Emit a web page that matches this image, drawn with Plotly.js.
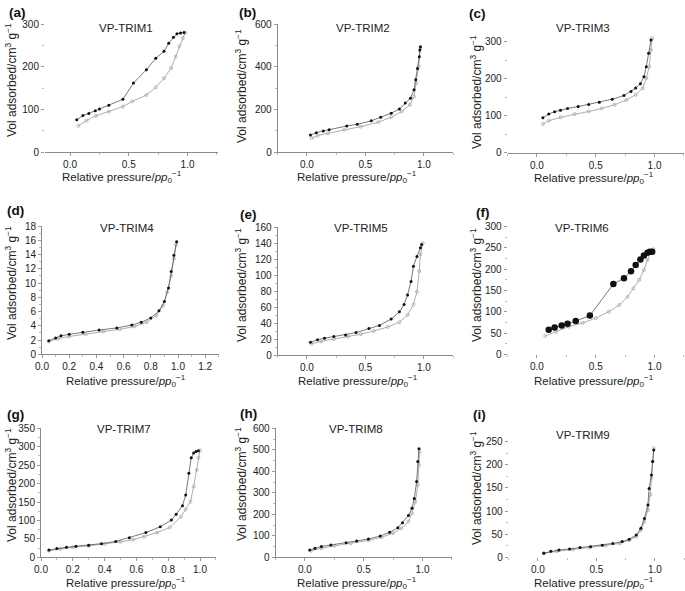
<!DOCTYPE html>
<html>
<head>
<meta charset="utf-8">
<script src="https://cdn.plot.ly/plotly-3.0.1.min.js"></script>
<style>
html,body{margin:0;padding:0;background:#fff;}
#chart{width:685px;height:591px;}
</style>
</head>
<body>
<div id="chart"></div>
<script>
// ---------- DATA (relative pressure P, volume adsorbed V) ----------
const panelNames = ["VP-TRIM1","VP-TRIM2","VP-TRIM3","VP-TRIM4","VP-TRIM5","VP-TRIM6","VP-TRIM7","VP-TRIM8","VP-TRIM9"];
const panelLetters = ["(a)","(b)","(c)","(d)","(e)","(f)","(g)","(h)","(i)"];

const trim1AdsP = [0.07,0.14,0.22,0.33,0.45,0.53,0.65,0.73,0.8,0.86,0.9,0.93,0.96,0.98];
const trim1AdsV = [62,74,85,95,107,119,134,152,173,197,224,248,267,280];
const trim1DesP = [0.057,0.11,0.16,0.215,0.25,0.33,0.45,0.54,0.65,0.73,0.8,0.84,0.88,0.91,0.94,0.97];
const trim1DesV = [76,86,91,97,101,110,124,162,193,220,236,255,269,277,279,280];

const trim2AdsP = [0.04,0.09,0.18,0.32,0.46,0.61,0.72,0.81,0.88,0.915,0.935,0.955,0.97];
const trim2AdsV = [66,78,89,105,120,141,164,191,222,261,323,402,488];
const trim2DesP = [0.03,0.08,0.14,0.19,0.34,0.43,0.55,0.63,0.72,0.79,0.84,0.885,0.915,0.93,0.945,0.96,0.965,0.97];
const trim2DesV = [81,92,100,106,123,131,147,164,183,202,230,253,292,339,392,447,478,494];

const trim3AdsP = [0.05,0.1,0.2,0.32,0.44,0.55,0.66,0.76,0.84,0.9,0.93,0.955,0.97,0.98];
const trim3AdsV = [77,86,95,104,111,119,129,142,156,174,201,232,277,309];
const trim3DesP = [0.05,0.1,0.15,0.2,0.26,0.35,0.44,0.53,0.64,0.74,0.8,0.84,0.88,0.91,0.93,0.95,0.97];
const trim3DesV = [94,104,110,114,119,124,130,136,144,154,165,174,186,205,232,268,304];

const trim4AdsP = [0.05,0.12,0.2,0.32,0.45,0.57,0.68,0.77,0.84,0.89,0.92,0.95,0.97,0.985];
const trim4AdsV = [1.8,2.2,2.5,2.8,3.2,3.5,3.9,4.5,5.4,6.8,8.7,11.0,13.4,15.4];
const trim4DesP = [0.05,0.1,0.14,0.2,0.3,0.42,0.55,0.66,0.73,0.8,0.86,0.9,0.93,0.95,0.97,0.99];
const trim4DesV = [1.9,2.3,2.6,2.8,3.1,3.4,3.7,4.1,4.5,5.1,6.1,7.4,9.3,11.6,13.9,15.8];

const trim5AdsP = [0.04,0.12,0.23,0.35,0.46,0.57,0.69,0.79,0.86,0.91,0.94,0.96,0.97,0.99];
const trim5AdsV = [14,17,20,23,26,30,35,41,50,63,79,105,126,140];
const trim5DesP = [0.03,0.09,0.15,0.23,0.33,0.42,0.53,0.62,0.72,0.79,0.83,0.86,0.89,0.91,0.94,0.97,0.98];
const trim5DesV = [16,19,21,23,25,28,33,37,45,54,63,75,92,111,123,134,138];

const trim6AdsP = [0.07,0.16,0.27,0.39,0.5,0.61,0.7,0.77,0.82,0.87,0.91,0.94,0.97,0.99];
const trim6AdsV = [43,53,65,74,85,100,116,135,155,175,198,222,240,247];
const trim6DesP = [0.1,0.15,0.21,0.26,0.33,0.45,0.65,0.74,0.8,0.84,0.88,0.91,0.94,0.96,0.98];
const trim6DesV = [58,63,68,72,78,91,165,179,195,210,223,232,239,241,241];

const trim7AdsP = [0.05,0.12,0.2,0.3,0.4,0.5,0.58,0.65,0.73,0.81,0.88,0.91,0.94,0.96,0.98,0.99,1.0];
const trim7AdsV = [18,23,27,31,36,42,48,56,67,81,110,130,151,192,237,270,290];
const trim7DesP = [0.05,0.1,0.16,0.22,0.3,0.38,0.47,0.556,0.66,0.75,0.82,0.85,0.89,0.91,0.93,0.945,0.96,0.975,0.99];
const trim7DesV = [20,24,27,30,33,37,43,53,67,83,101,117,140,169,228,270,283,287,289];

const trim8AdsP = [0.05,0.14,0.25,0.39,0.54,0.65,0.75,0.82,0.88,0.91,0.94,0.96,0.97,0.975];
const trim8AdsV = [30,42,53,65,79,93,112,135,166,205,259,336,429,491];
const trim8DesP = [0.04,0.085,0.14,0.22,0.35,0.44,0.54,0.64,0.72,0.79,0.83,0.88,0.91,0.93,0.95,0.96,0.97];
const trim8DesV = [34,42,50,57,68,76,85,99,116,138,161,194,228,274,352,445,505];

const trim9AdsP = [0.05,0.16,0.3,0.44,0.58,0.7,0.78,0.84,0.88,0.91,0.94,0.96,0.97,0.98,0.99];
const trim9AdsV = [9,13,17,21,25,30,37,45,59,77,102,135,171,207,236];
const trim9DesP = [0.05,0.11,0.18,0.27,0.36,0.45,0.55,0.64,0.72,0.78,0.84,0.88,0.91,0.94,0.95,0.97,0.98,0.99];
const trim9DesV = [9,13,16,18,21,23,26,30,34,39,48,63,84,113,149,178,207,232];

// tick labels per panel
const yTicks = [
  [0,100,200,300],[0,200,400,600],[0,100,200,300],
  [0,2,4,6,8,10,12,14,16,18],[0,20,40,60,80,100,120,140,160],[0,50,100,150,200,250,300],
  [0,50,100,150,200,250,300,350],[0,100,200,300,400,500,600],[0,50,100,150,200,250]
];
const xTicksStd = [0.0,0.5,1.0];
const xTickTextStd = ["0.0","0.5","1.0"];
const xTicksD = [0.0,0.2,0.4,0.6,0.8,1.0,1.2];
const xTicksG = [0.0,0.2,0.4,0.6,0.8,1.0];

// ---------- LAYOUT GEOMETRY (pixels) ----------
const W = 685, H = 591;
const series = [
  [trim1AdsP,trim1AdsV,trim1DesP,trim1DesV],
  [trim2AdsP,trim2AdsV,trim2DesP,trim2DesV],
  [trim3AdsP,trim3AdsV,trim3DesP,trim3DesV],
  [trim4AdsP,trim4AdsV,trim4DesP,trim4DesV],
  [trim5AdsP,trim5AdsV,trim5DesP,trim5DesV],
  [trim6AdsP,trim6AdsV,trim6DesP,trim6DesV],
  [trim7AdsP,trim7AdsV,trim7DesP,trim7DesV],
  [trim8AdsP,trim8AdsV,trim8DesP,trim8DesV],
  [trim9AdsP,trim9AdsV,trim9DesP,trim9DesV]
];
const geom = [
  {x:[45,217.5],   xr:[-0.213,1.255],y:[24,152.3],   yr:[0,300], xl:true,  yl:false, ym:50},
  {x:[277.7,453.2],xr:[-0.25,1.25],  y:[24,152.3],   yr:[0,600], xl:true,  yl:true,  ym:100},
  {x:[507.6,683.9],xr:[-0.25,1.25],  y:[30.4,152.5], yr:[0,330], xl:true,  yl:false, ym:50},
  {x:[42,218.8],   xr:[0,1.3],       y:[226,354.3],  yr:[0,18],  xl:true,  yl:true,  ym:1},
  {x:[277.7,453.2],xr:[-0.25,1.25],  y:[227,355],    yr:[0,160], xl:true,  yl:true,  ym:10},
  {x:[507.6,683.9],xr:[-0.25,1.25],  y:[226.7,354.3],yr:[0,300], xl:false, yl:false, ym:25},
  {x:[41,215.9],   xr:[0,1.1],       y:[428.3,557.3],yr:[0,350], xl:true,  yl:true,  ym:25},
  {x:[275.6,451.9],xr:[-0.25,1.25],  y:[428.3,557.3],yr:[0,600], xl:true,  yl:true,  ym:50},
  {x:[508.7,684.2],xr:[-0.25,1.25],  y:[441.7,557.3],yr:[0,250], xl:false, yl:false, ym:25}
];
const titlePos = [[126,28],[363,28],[583,28],[127,228],[361,228],[582,228],[124,429],[356,429],[583,435]];
const letterPos = [[17,12.5],[247.5,12.5],[477,14],[15,211],[248,214.5],[482.5,212],[15.5,414],[248.5,413.5],[479.5,414.5]];
const xTitlePos = [[122,177],[357,177],[594,178.5],[126,381],[358,381],[594,381],[126,583],[357,583],[594,583]];
const yTitlePos = [[11,80],[241,86],[476,92],[11,283],[241,285],[476,285],[11,485],[241,484],[476,488]];

const FONT = "Liberation Sans, Arial, Helvetica, sans-serif";
const traces = [];
const layout = {
  width: W, height: H,
  margin: {l:0,r:0,t:0,b:0},
  paper_bgcolor: "#ffffff", plot_bgcolor: "rgba(0,0,0,0)",
  showlegend: false,
  font: {family: FONT, color: "#222"},
  annotations: []
};

for (let i = 0; i < 9; i++) {
  const g = geom[i];
  const sfx = i === 0 ? "" : String(i + 1);
  const xa = "x" + sfx, ya = "y" + sfx;
  const s = series[i];
  const big = (i === 5);
  traces.push({
    x: s[0], y: s[1], xaxis: xa, yaxis: ya, type: "scatter", mode: "lines+markers",
    line: {color: "#a5a5a5", width: 0.9},
    marker: {symbol: "circle-open", size: 3, color: "#a0a0a0", line: {width: 0.7, color: "#a0a0a0"}},
    hoverinfo: "skip"
  });
  traces.push({
    x: s[2], y: s[3], xaxis: xa, yaxis: ya, type: "scatter", mode: "lines+markers",
    line: {color: "#555", width: 0.8},
    marker: {symbol: "circle", size: big ? 6.5 : 3, color: "#111"},
    hoverinfo: "skip"
  });

  let xtv, xtt, xminor;
  if (i === 3) { xtv = xTicksD; xtt = xTicksD.map(v => v.toFixed(1)); xminor = 0.1; }
  else if (i === 6) { xtv = xTicksG; xtt = xTicksG.map(v => v.toFixed(1)); xminor = 0.1; }
  else { xtv = xTicksStd; xtt = xTickTextStd; xminor = 0.25; }

  layout["xaxis" + sfx] = {
    domain: [g.x[0] / W, g.x[1] / W], range: g.xr, anchor: ya,
    showgrid: false, zeroline: false, showline: g.xl, linecolor: "#8a8a8a", linewidth: 1,
    tickmode: "array", tickvals: xtv, ticktext: xtt,
    ticks: "outside", ticklen: 3, tickwidth: 1, tickcolor: "#999",
    minor: {tickmode: "linear", tick0: 0, dtick: xminor, ticks: "outside", ticklen: 2, tickcolor: "#bbb", showgrid: false},
    tickfont: {family: FONT, size: 10, color: "#222"},
    fixedrange: true
  };
  layout["yaxis" + sfx] = {
    domain: [1 - g.y[1] / H, 1 - g.y[0] / H], range: g.yr, anchor: xa,
    showgrid: false, zeroline: false, showline: g.yl, linecolor: "#8a8a8a", linewidth: 1,
    tickmode: "array", tickvals: yTicks[i], ticktext: yTicks[i].map(String),
    ticks: "outside", ticklen: 3, tickwidth: 1, tickcolor: "#999",
    minor: {tickmode: "linear", tick0: 0, dtick: g.ym, ticks: "outside", ticklen: 2, tickcolor: "#bbb", showgrid: false},
    tickfont: {family: FONT, size: 10, color: "#222"},
    fixedrange: true
  };

  layout.annotations.push({
    xref: "paper", yref: "paper", x: titlePos[i][0] / W, y: 1 - titlePos[i][1] / H,
    xanchor: "center", yanchor: "middle", showarrow: false,
    text: panelNames[i], font: {family: FONT, size: 11.5, color: "#222"}
  });
  layout.annotations.push({
    xref: "paper", yref: "paper", x: letterPos[i][0] / W, y: 1 - letterPos[i][1] / H,
    xanchor: "center", yanchor: "middle", showarrow: false,
    text: "<b>" + panelLetters[i] + "</b>", font: {family: FONT, size: 13.5, color: "#111"}
  });
  layout.annotations.push({
    xref: "paper", yref: "paper", x: xTitlePos[i][0] / W, y: 1 - xTitlePos[i][1] / H,
    xanchor: "center", yanchor: "middle", showarrow: false,
    text: "Relative pressure/<i>pp</i><sub>0</sub><sup>−1</sup>", font: {family: FONT, size: 11.5, color: "#222"}
  });
  layout.annotations.push({
    xref: "paper", yref: "paper", x: yTitlePos[i][0] / W, y: 1 - yTitlePos[i][1] / H,
    xanchor: "center", yanchor: "middle", showarrow: false, textangle: -90,
    text: "Vol adsorbed/cm<sup>3</sup> g<sup>−1</sup>", font: {family: FONT, size: 12, color: "#222"}
  });
}

Plotly.newPlot("chart", traces, layout, {staticPlot: true, displayModeBar: false});
</script>
</body>
</html>
